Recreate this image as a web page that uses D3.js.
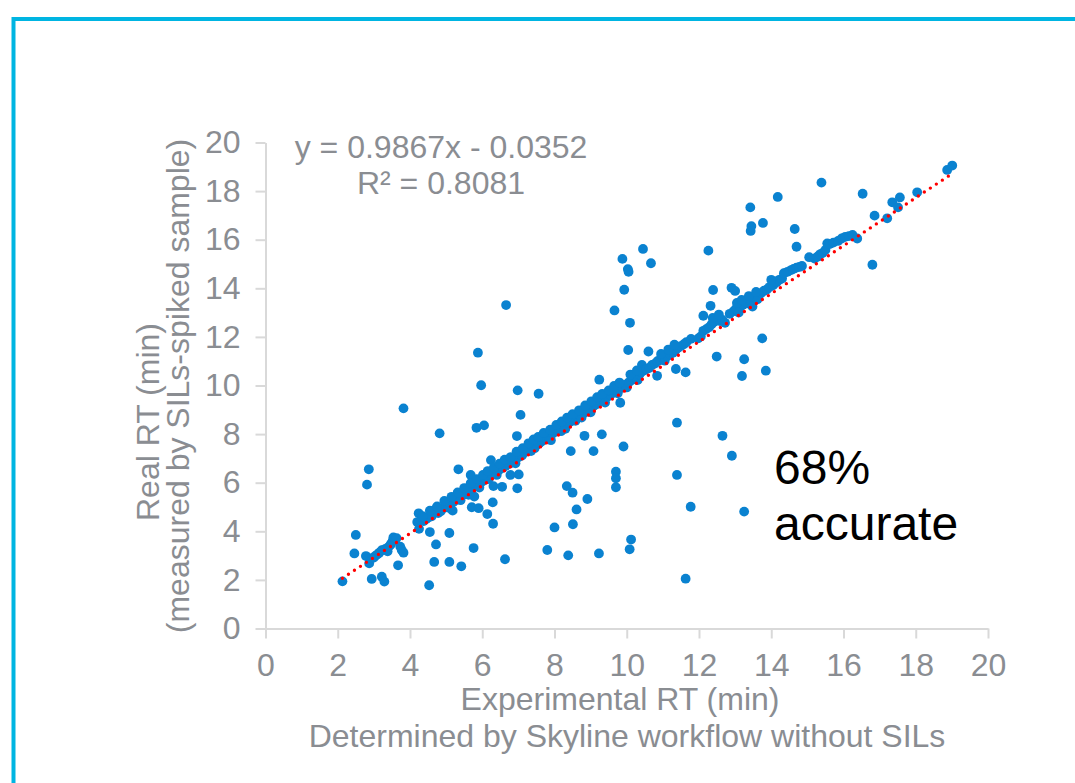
<!DOCTYPE html>
<html>
<head>
<meta charset="utf-8">
<script src="https://cdn.jsdelivr.net/npm/d3@7"></script>
<style>
  html, body { margin: 0; padding: 0; background: #fff; }
  svg { display: block; }
  text { font-family: "Liberation Sans", Arial, sans-serif; }
</style>
</head>
<body>
<script>
'use strict';

// peptides that land on the diagonal (Skyline RT ~ real RT)
const alignedRT = [
  [2.13, 1.94], [2.78, 2.98], [2.87, 2.68], [2.95, 2.90], [3.00, 2.92], [3.05, 3.00],
  [3.10, 3.05], [3.15, 3.12], [3.22, 3.22], [3.32, 3.28], [3.38, 3.18], [3.40, 3.35],
  [3.45, 3.42], [3.48, 3.50], [3.52, 3.60], [3.54, 3.75], [3.58, 3.68], [3.63, 3.72],
  [4.20, 4.38], [4.30, 4.45], [4.38, 4.42], [4.45, 4.50], [4.52, 4.58], [4.60, 4.62],
  [4.65, 4.80], [4.70, 4.90], [4.78, 4.75], [4.85, 4.82], [4.92, 4.95], [5.00, 5.05],
  [5.05, 4.98], [5.12, 5.12], [5.18, 4.85], [5.20, 5.20], [5.28, 5.30], [5.35, 5.38],
  [5.40, 5.28], [5.45, 5.48], [5.52, 5.55], [5.58, 5.62], [5.62, 5.50], [5.70, 5.75],
  [5.75, 5.80], [5.82, 5.88], [5.88, 5.92], [5.92, 5.80], [6.00, 6.05], [6.08, 6.12],
  [6.12, 6.20], [6.18, 6.15], [6.22, 6.30], [6.28, 6.35], [6.35, 6.40], [6.40, 6.32],
  [6.45, 6.50], [6.52, 6.58], [6.58, 6.62], [6.65, 6.70], [6.70, 6.82], [6.75, 6.78],
  [6.82, 6.85], [6.88, 6.92], [6.92, 6.80], [7.00, 7.05], [7.05, 7.18], [7.10, 7.12],
  [7.18, 7.25], [7.25, 7.35], [7.30, 7.45], [7.35, 7.30], [7.40, 7.50], [7.45, 7.42],
  [7.50, 7.55], [7.58, 7.62], [7.65, 7.70], [7.72, 7.78], [7.78, 7.85], [7.85, 7.90],
  [7.90, 7.75], [7.95, 8.02], [8.02, 8.10], [8.10, 8.15], [8.18, 8.12], [8.25, 8.30],
  [8.30, 8.22], [8.38, 8.45], [8.45, 8.52], [8.52, 8.60], [8.58, 8.55], [8.65, 8.70],
  [8.70, 8.78], [8.75, 8.68], [8.82, 8.88], [8.88, 8.95], [8.95, 9.02], [9.00, 8.90],
  [9.08, 9.15], [9.15, 9.22], [9.20, 9.30], [9.28, 9.35], [9.35, 9.40], [9.40, 9.30],
  [9.48, 9.55], [9.55, 9.62], [9.62, 9.70], [9.70, 9.75], [9.75, 9.68], [9.82, 9.88],
  [9.88, 9.95], [9.95, 10.02], [10.00, 9.92], [10.05, 10.12], [10.12, 10.20], [10.18, 10.28],
  [10.25, 10.32], [10.30, 10.22], [10.35, 10.45], [10.40, 10.55], [10.42, 10.85], [10.48, 10.62],
  [10.55, 10.68], [10.62, 10.72], [10.70, 10.85], [10.78, 10.90], [10.85, 11.00], [10.92, 11.05],
  [11.00, 11.10], [11.05, 11.02], [11.12, 11.20], [11.20, 11.28], [11.28, 11.35], [11.35, 11.45],
  [11.42, 11.55], [11.50, 11.62], [11.58, 11.70], [11.65, 11.78], [11.78, 11.92], [11.98, 11.94],
  [12.05, 12.02], [12.12, 12.25], [12.20, 12.32], [12.28, 12.40], [12.35, 12.52], [12.42, 12.62],
  [12.50, 12.72], [12.58, 12.65], [12.65, 12.70], [12.72, 12.58], [12.85, 12.95], [12.95, 13.05],
  [13.02, 13.15], [13.10, 13.00], [13.15, 13.25], [13.22, 13.32], [13.28, 13.45], [13.35, 13.38],
  [13.40, 13.52], [13.48, 13.25], [13.55, 13.62], [13.62, 13.55], [13.72, 13.80], [13.80, 13.90],
  [13.88, 13.95], [13.95, 14.05], [14.05, 14.12], [14.15, 14.25], [14.22, 14.35], [14.30, 14.40],
  [14.45, 14.68], [14.55, 14.75], [14.62, 14.80], [14.70, 14.85], [14.78, 14.88], [14.85, 14.92],
  [15.20, 15.22], [15.28, 15.30], [15.35, 15.40], [15.42, 15.45], [15.50, 15.58], [15.55, 15.85],
  [15.62, 15.82], [15.72, 15.88], [15.85, 15.95], [15.95, 16.05], [16.05, 16.12], [16.15, 16.15],
  [16.25, 16.20], [16.38, 16.05], [16.86, 16.99], [17.21, 16.88], [17.35, 17.54], [17.51, 17.33],
  [17.56, 17.74], [18.04, 17.95], [18.87, 18.87], [19.01, 19.05],
  // upper edge of the band
  [4.35, 4.62], [4.55, 4.85], [4.75, 5.02], [4.95, 5.25], [5.15, 5.42], [5.32, 5.60],
  [5.50, 5.78], [5.68, 5.98], [5.85, 6.15], [6.02, 6.32], [6.15, 6.48], [6.32, 6.62],
  [6.48, 6.78], [6.62, 6.95], [6.78, 7.05], [6.95, 7.28], [7.12, 7.42], [7.28, 7.62],
  [7.42, 7.78], [7.55, 7.88], [7.70, 8.05], [7.88, 8.18], [8.05, 8.38], [8.20, 8.52],
  [8.35, 8.68], [8.50, 8.82], [8.68, 8.98], [8.85, 9.18], [9.02, 9.35], [9.18, 9.52],
  [9.32, 9.65], [9.50, 9.80], [9.65, 9.98], [9.80, 10.12], [10.10, 10.45], [10.28, 10.62],
  [10.95, 11.30], [11.15, 11.48], [11.32, 11.68], [12.38, 12.78], [12.55, 12.92], [13.05, 13.40],
  [13.18, 13.52], [13.38, 13.68], [13.58, 13.85], [14.00, 14.35], [14.35, 14.62], [15.05, 15.28]
]

// peptides Skyline placed off the diagonal
const misassignedRT = [
  [2.46, 3.09], [2.50, 3.85], [2.86, 6.55], [2.81, 5.92], [2.94, 2.04], [3.22, 2.13],
  [3.29, 1.93], [3.67, 2.60], [3.73, 3.37], [3.77, 3.23], [3.82, 3.12], [4.24, 4.74],
  [4.25, 4.10], [4.55, 3.97], [4.53, 1.78], [4.67, 2.74], [4.72, 3.46], [4.82, 8.03],
  [5.09, 3.93], [5.09, 2.74], [5.42, 2.56], [5.34, 6.55], [5.68, 6.32], [5.76, 3.31],
  [5.71, 4.99], [5.90, 4.95], [5.84, 8.26], [6.05, 8.36], [6.14, 4.71], [6.29, 5.19],
  [6.30, 4.31], [6.63, 2.85], [6.24, 6.93], [6.55, 5.83], [6.31, 5.86], [6.96, 7.92],
  [7.01, 6.34], [6.78, 6.32], [6.97, 5.77], [5.78, 5.43], [7.80, 3.23], [8.00, 4.16],
  [8.34, 5.86], [8.50, 5.59], [8.45, 7.30], [8.38, 3.01], [8.51, 4.29], [8.61, 4.90],
  [8.83, 7.93], [8.91, 5.33], [9.08, 7.30], [9.31, 7.99], [9.23, 3.09], [9.70, 6.45],
  [9.70, 6.18], [9.70, 5.81], [9.91, 7.49], [10.12, 3.66], [10.08, 3.26], [6.66, 13.31],
  [5.88, 11.35], [5.97, 10.01], [3.82, 9.06], [6.98, 9.80], [7.56, 9.66], [7.06, 8.79],
  [9.24, 10.24], [9.82, 9.29], [11.39, 8.47], [12.65, 7.93], [12.91, 7.11], [11.39, 6.32],
  [11.77, 5.01], [13.25, 4.81], [11.63, 2.05], [15.39, 18.35], [14.18, 17.76], [16.53, 17.89],
  [13.42, 17.33], [13.45, 16.56], [13.43, 16.36], [13.77, 16.69], [14.65, 16.44], [14.70, 15.71],
  [12.26, 15.55], [10.45, 15.62], [9.88, 15.21], [10.67, 15.03], [10.03, 14.79], [10.05, 14.68],
  [9.93, 13.94], [9.66, 13.09], [10.09, 12.58], [12.39, 13.93], [12.32, 13.28], [12.12, 12.87],
  [12.90, 14.02], [13.00, 13.89], [16.80, 14.97], [13.75, 11.94], [10.04, 11.46], [10.60, 11.40],
  [12.49, 11.19], [13.25, 11.08], [13.19, 10.39], [13.85, 10.61], [11.36, 10.68], [11.63, 10.54],
  [10.84, 10.40]
]

const axisTicks = [0, 2, 4, 6, 8, 10, 12, 14, 16, 18, 20]
const trendSlope = 0.9867
const trendIntercept = -0.0352
const trendLabel = ["y = 0.9867x - 0.0352", "R\u00b2 = 0.8081"]
const accuracyLabel = ["68%", "accurate"]

const m = {
  width: 1075,
  height: 783,
  left: 265.5,
  right: 988,
  top: 142.5,
  bottom: 628.5
}

const gray = '#8a8d92'
const axisGray = '#d9d9d9'

const svg = d3.select('body')
  .append('svg')
  .attr('width', m.width)
  .attr('height', m.height)

// cyan slide frame
svg.append('path')
  .attr('d', 'M13.5,' + m.height + 'V19H' + m.width)
  .attr('fill', 'none')
  .attr('stroke', '#00b5e2')
  .attr('stroke-width', 4)

const xScale = d3.scaleLinear().domain([0, 20]).range([m.left, m.right])
const yScale = d3.scaleLinear().domain([0, 20]).range([m.bottom, m.top])

function styleAxis(g) {
  g.select('.domain').attr('stroke', axisGray).attr('stroke-width', 2)
  g.selectAll('.tick line').attr('stroke', axisGray).attr('stroke-width', 2)
  g.selectAll('.tick text')
    .attr('fill', gray)
    .style('font-size', '32px')
    .style('font-family', '"Liberation Sans", Arial, sans-serif')
}

svg.append('g')
  .attr('transform', 'translate(0,' + m.bottom + ')')
  .call(d3.axisBottom(xScale).tickValues(axisTicks).tickSize(10).tickSizeOuter(0).tickPadding(15))
  .call(styleAxis)

svg.append('g')
  .attr('transform', 'translate(' + m.left + ',0)')
  .call(d3.axisLeft(yScale).tickValues(axisTicks).tickSize(10).tickSizeOuter(0).tickPadding(15))
  .call(styleAxis)

// points
svg.append('g')
  .selectAll('circle')
  .data(misassignedRT.concat(alignedRT))
  .enter()
  .append('circle')
    .attr('cx', d => xScale(d[0]))
    .attr('cy', d => yScale(d[1]))
    .attr('r', 4.9)
    .attr('fill', '#0a82d0')

// dotted linear trendline over the data range
const xExtent = d3.extent(alignedRT.concat(misassignedRT), d => d[0])
svg.append('line')
  .attr('x1', xScale(xExtent[0]))
  .attr('y1', yScale(trendSlope * xExtent[0] + trendIntercept))
  .attr('x2', xScale(xExtent[1]))
  .attr('y2', yScale(trendSlope * xExtent[1] + trendIntercept))
  .attr('stroke', '#ff0000')
  .attr('stroke-width', 3.4)
  .attr('stroke-linecap', 'round')
  .attr('stroke-dasharray', '0,7.2')

// equation
svg.selectAll('.eq')
  .data(trendLabel)
  .enter()
  .append('text')
    .attr('class', 'eq')
    .attr('x', 441)
    .attr('y', (d, i) => 158 + i * 36)
    .attr('text-anchor', 'middle')
    .attr('fill', gray)
    .style('font-size', '32px')
    .text(d => d)

// annotation
svg.selectAll('.acc')
  .data(accuracyLabel)
  .enter()
  .append('text')
    .attr('class', 'acc')
    .attr('x', 774)
    .attr('y', (d, i) => 484 + i * 56)
    .attr('fill', '#000')
    .style('font-size', '48px')
    .text(d => d)

// axis titles
svg.append('text')
  .attr('x', 620)
  .attr('y', 710)
  .attr('text-anchor', 'middle')
  .attr('fill', gray)
  .style('font-size', '32px')
  .text('Experimental RT (min)')

svg.append('text')
  .attr('x', 627)
  .attr('y', 747)
  .attr('text-anchor', 'middle')
  .attr('fill', gray)
  .style('font-size', '32px')
  .text('Determined by Skyline workflow without SILs')

svg.append('text')
  .attr('transform', 'translate(159,422)rotate(-90)')
  .attr('text-anchor', 'middle')
  .attr('fill', gray)
  .style('font-size', '32px')
  .text('Real RT (min)')

svg.append('text')
  .attr('transform', 'translate(189,386)rotate(-90)')
  .attr('text-anchor', 'middle')
  .attr('fill', gray)
  .style('font-size', '32px')
  .text('(measured by SILs-spiked sample)')
</script>
</body>
</html>
